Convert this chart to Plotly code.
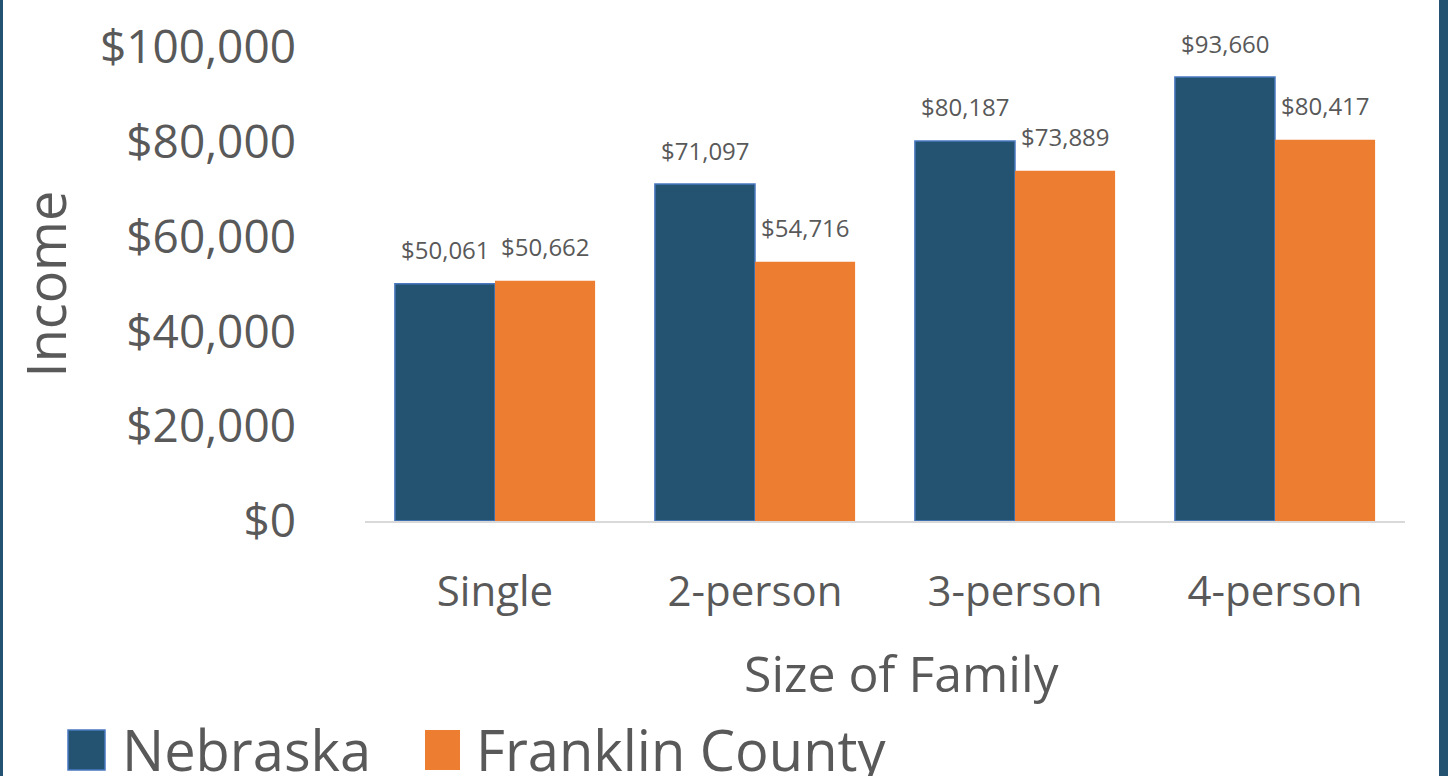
import plotly.graph_objects as go

categories = ["Single", "2-person", "3-person", "4-person"]
nebraska = [50061, 71097, 80187, 93660]
franklin = [50662, 54716, 73889, 80417]
series_names = ["Nebraska", "Franklin County"]
tick_vals = [0, 20000, 40000, 60000, 80000, 100000]
tick_text = ["$0", "$20,000", "$40,000", "$60,000", "$80,000", "$100,000"]
x_title = "Size of Family"
y_title = "Income"

NAVY = "#235371"
NAVY_EDGE = "#4A78C0"
ORANGE = "#ED7D31"
GRAY = "#595959"
FONT = "Open Sans"

W, H = 1448, 776
L, R, T, B = 365, 43, 47, 255
PW, PH = W - L - R, H - T - B

def px(x):
    return (x - L) / PW

def py(y):
    return (H - B - y) / PH

fig = go.Figure()
fig.add_trace(go.Bar(x=categories, y=nebraska, name=series_names[0],
                     marker=dict(color=NAVY, line=dict(color=NAVY_EDGE, width=1.5)),
                     showlegend=False))
fig.add_trace(go.Bar(x=categories, y=franklin, name=series_names[1],
                     marker=dict(color=ORANGE, line=dict(width=0)),
                     showlegend=False))

annotations = []
for cat, v in zip(categories, nebraska):
    annotations.append(dict(x=cat, y=v, xref="x", yref="y", text=f"${v:,}", showarrow=False,
                            xshift=-50, yshift=34, yanchor="middle",
                            font=dict(family=FONT, size=24, color=GRAY)))
for cat, v in zip(categories, franklin):
    annotations.append(dict(x=cat, y=v, xref="x", yref="y", text=f"${v:,}", showarrow=False,
                            xshift=50, yshift=34, yanchor="middle",
                            font=dict(family=FONT, size=24, color=GRAY)))

# x-axis title (slightly right of plot centre, as in the reference)
annotations.append(dict(x=px(902), y=py(673), xref="paper", yref="paper", xanchor="center", yanchor="middle",
                        text=x_title, showarrow=False, font=dict(family=FONT, size=50, color=GRAY)))

# custom legend
annotations.append(dict(x=px(120), y=py(749), xref="paper", yref="paper", xanchor="left", yanchor="middle",
                        text=series_names[0], showarrow=False, font=dict(family=FONT, size=56, color=GRAY)))
annotations.append(dict(x=px(474), y=py(749), xref="paper", yref="paper", xanchor="left", yanchor="middle",
                        text=series_names[1], showarrow=False, font=dict(family=FONT, size=56, color=GRAY)))

shapes = [
    dict(type="rect", xref="paper", yref="paper", x0=px(68), x1=px(105), y0=py(770), y1=py(730),
         fillcolor=NAVY, line=dict(color=NAVY_EDGE, width=1.5)),
    dict(type="rect", xref="paper", yref="paper", x0=px(425), x1=px(460), y0=py(770), y1=py(730),
         fillcolor=ORANGE, line=dict(width=0)),
    # frame
    dict(type="rect", xref="paper", yref="paper", x0=px(0), x1=px(3), y0=py(H), y1=py(0),
         fillcolor=NAVY, line=dict(width=0)),
    dict(type="rect", xref="paper", yref="paper", x0=px(1439), x1=px(W), y0=py(H), y1=py(0),
         fillcolor=NAVY, line=dict(width=0)),
]

fig.update_layout(
    width=W, height=H,
    margin=dict(l=L, r=R, t=T, b=B, pad=0),
    paper_bgcolor="white", plot_bgcolor="white",
    barmode="group", bargap=0.23, bargroupgap=0,
    font=dict(family=FONT, color=GRAY),
    annotations=annotations, shapes=shapes,
    xaxis=dict(showline=True, linecolor="#D9D9D9", linewidth=2, showgrid=False,
               ticks="", ticklabelstandoff=33,
               tickfont=dict(family=FONT, size=42, color=GRAY)),
    yaxis=dict(range=[0, 100000], tickvals=tick_vals, ticktext=tick_text, showgrid=False,
               showline=False, zeroline=False, ticks="", ticklabelstandoff=68,
               tickfont=dict(family=FONT, size=46, color=GRAY),
               title=dict(text=y_title, font=dict(family=FONT, size=54, color=GRAY), standoff=16)),
)

fig.write_html("out.html", config={"displayModeBar": False},
               post_script="document.body.style.margin='0';document.body.style.overflow='hidden';")
